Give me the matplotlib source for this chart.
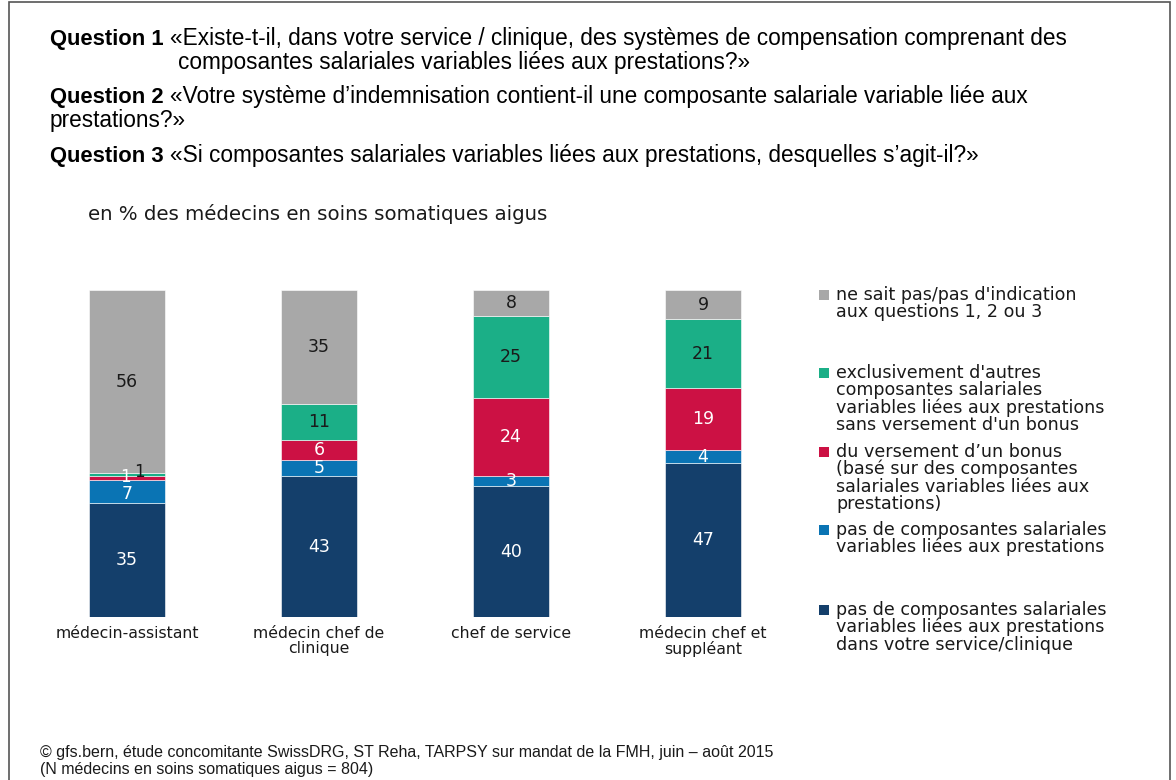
import matplotlib
matplotlib.use("Agg")
import matplotlib.pyplot as plt
from matplotlib.patches import Rectangle

plt.rcParams['font.family'] = ['Liberation Sans', 'DejaVu Sans']
WIDE = ['DejaVu Sans']

categories = ["médecin-assistant", "médecin chef de\nclinique", "chef de service", "médecin chef et\nsuppléant"]
series_names = [
    "pas de composantes salariales\nvariables liées aux prestations\ndans votre service/clinique",
    "pas de composantes salariales\nvariables liées aux prestations",
    "du versement d\u2019un bonus\n(basé sur des composantes\nsalariales variables liées aux\nprestations)",
    "exclusivement d'autres\ncomposantes salariales\nvariables liées aux prestations\nsans versement d'un bonus",
    "ne sait pas/pas d'indication\naux questions 1, 2 ou 3",
]
values = [
    [35, 43, 40, 47],
    [7, 5, 3, 4],
    [1, 6, 24, 19],
    [1, 11, 25, 21],
    [56, 35, 8, 9],
]
colors = ["#143F6B", "#0A74B4", "#CC1144", "#1BAF87", "#A8A8A8"]
label_colors = ["white", "white", "white", "#1a1a1a", "#1a1a1a"]

W, H = 1176, 780
fig = plt.figure(figsize=(W / 100, H / 100), dpi=100)

# frame
fig.patches.append(Rectangle((9 / W, -0.01), (1170 - 9) / W, 1.0 - 2 / H + 0.01,
                             transform=fig.transFigure, fill=False, edgecolor="#555555", linewidth=1.2))

ax = fig.add_axes([31 / W, 1 - 617 / H, 768 / W, (617 - 290) / H])
x = list(range(len(categories)))
bottoms = [0] * len(categories)
for si, (vals, col) in enumerate(zip(values, colors)):
    ax.bar(x, vals, width=0.40, bottom=bottoms, color=col, edgecolor="white", linewidth=0.4)
    for xi, v in enumerate(vals):
        yc = bottoms[xi] + v / 2
        dx, dy, fs = 0, 0, 12.5
        if v <= 1 and si == 3:
            dx, dy, fs = 0.065, 0.9, 12
        elif v <= 1 and si == 2:
            dx, dy, fs = -0.01, 0.3, 12
        elif xi == 0 and si == 1:
            dy = -1.0
        ax.text(xi + dx, yc + dy, str(v), ha="center", va="center", fontsize=fs,
                family=WIDE, color=label_colors[si])
    bottoms = [b + v for b, v in zip(bottoms, vals)]

ax.set_xlim(-0.5, 3.5)
ax.set_ylim(0, 100)
ax.axis("off")
for xi, c in enumerate(categories):
    ax.text(xi, -2.8, c, ha="center", va="top", fontsize=11.3, family=WIDE,
            color="#1a1a1a", linespacing=0.95)

# Legend
leg_y = [295, 373, 452, 530, 610]
leg_order = [4, 3, 2, 1, 0]
for yy, si in zip(leg_y, leg_order):
    fig.patches.append(Rectangle((819 / W, 1 - (yy + 5) / H), 10 / W, 10 / H,
                                 transform=fig.transFigure, facecolor=colors[si], edgecolor="none"))
    fig.text(836 / W, 1 - (yy - 9) / H, series_names[si], ha="left", va="top",
             fontsize=12.6, family=WIDE, color="#1a1a1a", linespacing=0.93)

# Questions
QB = 15.8
QS = 16.3
def q(xp, yp, bold, rest):
    t = fig.text(xp / W, 1 - yp / H, bold, fontsize=QB, fontweight="bold", va="baseline", ha="left")
    fig.canvas.draw()
    bb = t.get_window_extent()
    fig.text((bb.x1 + 6) / W, 1 - yp / H, rest, fontsize=QS, va="baseline", ha="left")

q(50, 45, "Question 1", "«Existe-t-il, dans votre service / clinique, des systèmes de compensation comprenant des")
fig.text(178 / W, 1 - 69 / H, "composantes salariales variables liées aux prestations?»", fontsize=QS, va="baseline")
q(50, 103, "Question 2", "«Votre système d\u2019indemnisation contient-il une composante salariale variable liée aux")
fig.text(50 / W, 1 - 127 / H, "prestations?»", fontsize=QS, va="baseline")
q(50, 162, "Question 3", "«Si composantes salariales variables liées aux prestations, desquelles s\u2019agit-il?»")

fig.text(88 / W, 1 - 220 / H, "en % des médecins en soins somatiques aigus", fontsize=14.2,
         family=WIDE, va="baseline", color="#1a1a1a")

fig.text(40 / W, 1 - 757 / H, "© gfs.bern, étude concomitante SwissDRG, ST Reha, TARPSY sur mandat de la FMH, juin \u2013 août 2015",
         fontsize=11.5, va="baseline", color="#1a1a1a")
fig.text(40 / W, 1 - 774 / H, "(N médecins en soins somatiques aigus = 804)",
         fontsize=11.5, va="baseline", color="#1a1a1a")

fig.savefig("out.png", dpi=100)
